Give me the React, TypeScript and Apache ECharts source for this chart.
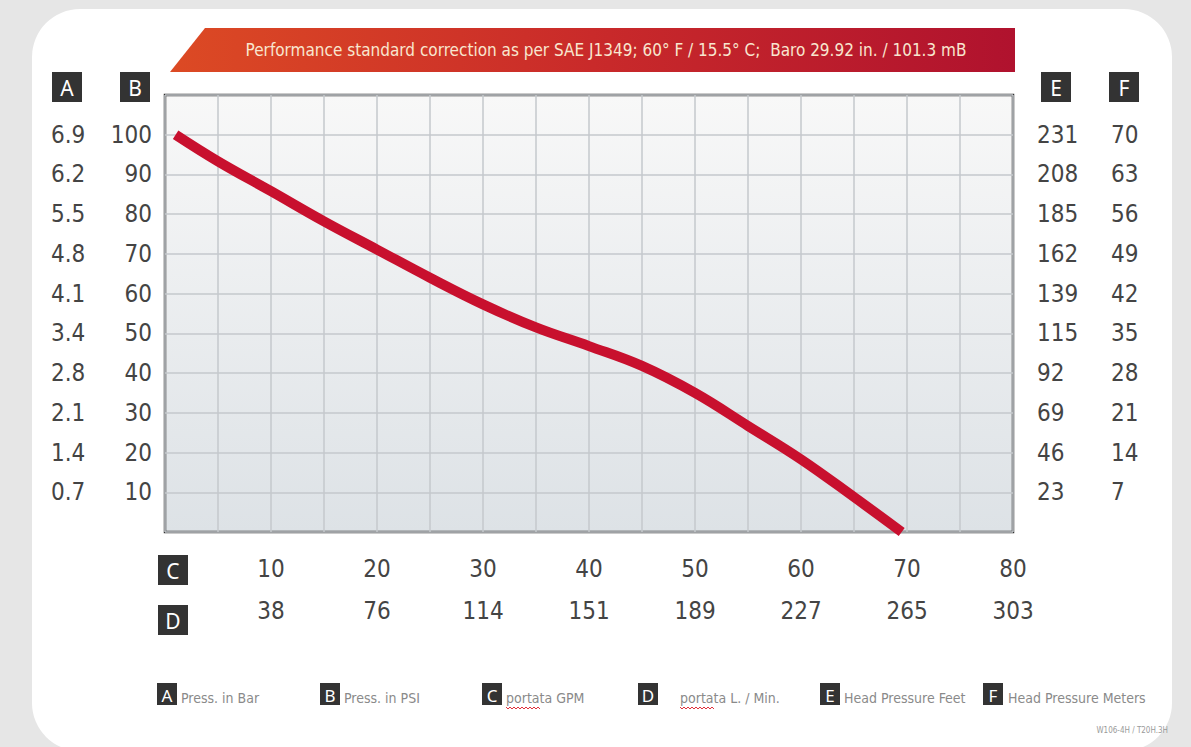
import React, { useEffect, useRef } from "react";
import * as echarts from "echarts";

// ---- data ----
const flowGpm = [1, 5, 10, 15, 20, 25, 30, 35, 40, 45, 50, 55, 60, 65, 69.5];
const pressurePsi = [100, 93.3, 85.8, 78.2, 71.1, 64, 57.3, 51.5, 46.8, 41.8, 35, 26.7, 18.3, 8.8, 0];

const gpmTicks = [10, 20, 30, 40, 50, 60, 70, 80];
const gpmLabels = ["10", "20", "30", "40", "50", "60", "70", "80"];
const lpmLabels = ["38", "76", "114", "151", "189", "227", "265", "303"];

const psiTicks = [10, 20, 30, 40, 50, 60, 70, 80, 90, 100];
const psiLabels = ["10", "20", "30", "40", "50", "60", "70", "80", "90", "100"];
const barLabels = ["0.7", "1.4", "2.1", "2.8", "3.4", "4.1", "4.8", "5.5", "6.2", "6.9"];
const feetLabels = ["23", "46", "69", "92", "115", "139", "162", "185", "208", "231"];
const meterLabels = ["7", "14", "21", "28", "35", "42", "49", "56", "63", "70"];

const legendKeys = ["A", "B", "C", "D", "E", "F"];
const legendTexts = [
  "Press. in Bar",
  "Press. in PSI",
  "portata GPM",
  "portata L. / Min.",
  "Head Pressure Feet",
  "Head Pressure Meters",
];

const titleText =
  "Performance standard correction as per SAE J1349; 60° F / 15.5° C;  Baro 29.92 in. / 101.3 mB";
const footnote = "W106-4H / T20H.3H";

const NUM_FONT = '"Liberation Sans Narrow", "DejaVu Sans Condensed", sans-serif';
const BOX_FONT = '"Noto Sans", "DejaVu Sans", sans-serif';

function pick(ticks: number[], labels: string[]) {
  return (v: number) => {
    const i = ticks.indexOf(Math.round(v * 100) / 100);
    return i >= 0 ? labels[i] : "";
  };
}

function box(key: string, x: number, y: number, w: number, h: number, fs: number) {
  return {
    type: "group",
    children: [
      { type: "rect", shape: { x, y, width: w, height: h }, style: { fill: "#333333" } },
      {
        type: "text",
        x: x + w / 2,
        y: y + h / 2 + 1,
        style: {
          text: key,
          fill: "#ffffff",
          fontSize: fs,
          fontFamily: BOX_FONT,
          align: "center",
          verticalAlign: "middle",
        },
      },
    ],
  };
}

function squiggle(x0: number, x1: number, y: number) {
  const pts: number[][] = [];
  let up = true;
  for (let x = x0; x <= x1; x += 2) {
    pts.push([x, up ? y : y + 2]);
    up = !up;
  }
  return { type: "polyline", shape: { points: pts }, style: { stroke: "#e0303a", lineWidth: 1, fill: null } };
}

export default function App() {
  const ref = useRef<HTMLDivElement>(null);

  useEffect(() => {
    if (!ref.current) return;
    const chart = echarts.init(ref.current, undefined, { renderer: "svg" });

    const legendBoxX = [157, 320, 482, 638, 820, 983];
    const legendTextX = [181, 344, 506, 680, 844, 1008];

    const graphics: any[] = [
      {
        type: "rect",
        z: -10,
        shape: { x: 32, y: 9, width: 1140, height: 742, r: 48 },
        style: { fill: "#ffffff" },
      },
      {
        type: "polygon",
        shape: { points: [[170, 72], [205, 28], [1015, 28], [1015, 72]] },
        style: {
          fill: new echarts.graphic.LinearGradient(0, 0, 1, 0, [
            { offset: 0, color: "#dc4a24" },
            { offset: 0.5, color: "#c92a2a" },
            { offset: 1, color: "#b0122e" },
          ]),
        },
      },
      {
        type: "text",
        x: 606,
        y: 50,
        style: {
          text: titleText,
          fill: "#f8e6cf",
          fontSize: 17,
          fontFamily: NUM_FONT,
          align: "center",
          verticalAlign: "middle",
        },
      },
      box("A", 52, 72, 30, 30, 21),
      box("B", 120, 72, 30, 30, 21),
      box("E", 1041, 72, 30, 30, 21),
      box("F", 1109, 72, 30, 30, 21),
      box("C", 158, 555, 30, 30, 21),
      box("D", 158, 605, 30, 30, 21),
      {
        type: "text",
        x: 1168,
        y: 730,
        style: {
          text: footnote,
          fill: "#9a9a9a",
          fontSize: 8,
          fontFamily: NUM_FONT,
          align: "right",
          verticalAlign: "middle",
        },
      },
    ];
    legendKeys.forEach((k, i) => {
      graphics.push(box(k, legendBoxX[i], 683, 20, 22, 17));
      graphics.push({
        type: "text",
        x: legendTextX[i],
        y: 705,
        style: {
          text: legendTexts[i],
          fill: "#8a8a8a",
          fontSize: 14,
          fontFamily: NUM_FONT,
          align: "left",
          verticalAlign: "bottom",
        },
      });
    });
    graphics.push(squiggle(506, 540, 707));
    graphics.push(squiggle(680, 714, 707));

    const tickLabel = { color: "#444444", fontSize: 24, fontFamily: NUM_FONT };
    const hidden = { show: false };

    chart.setOption({
      animation: false,
      backgroundColor: "#e6e6e6",
      graphic: graphics,
      grid: {
        left: 165,
        right: 178,
        top: 95,
        bottom: 215,
        show: true,
        borderColor: "#333333",
        borderWidth: 2.5,
        backgroundColor: new echarts.graphic.LinearGradient(0, 0, 0, 1, [
          { offset: 0, color: "#f8f8f8" },
          { offset: 1, color: "#dde2e6" },
        ]),
      },
      xAxis: [
        {
          type: "value",
          min: 0,
          max: 80,
          interval: 5,
          position: "bottom",
          axisLine: hidden,
          axisTick: hidden,
          splitLine: { show: true, lineStyle: { color: "#c4c9cd", width: 1.5 } },
          axisLabel: { ...tickLabel, margin: 25, formatter: pick(gpmTicks, gpmLabels) },
        },
        {
          type: "value",
          min: 0,
          max: 80,
          interval: 5,
          position: "bottom",
          offset: 42,
          axisLine: hidden,
          axisTick: hidden,
          splitLine: hidden,
          axisLabel: { ...tickLabel, margin: 25, formatter: pick(gpmTicks, lpmLabels) },
        },
      ],
      yAxis: [
        {
          type: "value",
          min: 0,
          max: 110,
          interval: 10,
          position: "left",
          axisLine: hidden,
          axisTick: hidden,
          splitLine: { show: true, lineStyle: { color: "#c4c9cd", width: 1.5 } },
          axisLabel: { ...tickLabel, margin: 13, formatter: pick(psiTicks, psiLabels) },
        },
        {
          type: "value",
          min: 0,
          max: 110,
          interval: 10,
          position: "left",
          axisLine: hidden,
          axisTick: hidden,
          splitLine: hidden,
          axisLabel: { ...tickLabel, margin: 114, align: "left", formatter: pick(psiTicks, barLabels) },
        },
        {
          type: "value",
          min: 0,
          max: 110,
          interval: 10,
          position: "right",
          axisLine: hidden,
          axisTick: hidden,
          splitLine: hidden,
          axisLabel: { ...tickLabel, margin: 24, align: "left", formatter: pick(psiTicks, feetLabels) },
        },
        {
          type: "value",
          min: 0,
          max: 110,
          interval: 10,
          position: "right",
          axisLine: hidden,
          axisTick: hidden,
          splitLine: hidden,
          axisLabel: { ...tickLabel, margin: 98, align: "left", formatter: pick(psiTicks, meterLabels) },
        },
      ],
      series: [
        {
          type: "line",
          xAxisIndex: 0,
          yAxisIndex: 0,
          data: flowGpm.map((f, i) => [f, pressurePsi[i]]),
          smooth: 0.4,
          symbol: "none",
          lineStyle: { color: "#c8102e", width: 10 },
          z: 5,
        },
      ],
    });

    return () => chart.dispose();
  }, []);

  return (
    <div
      ref={ref}
      style={{ position: "fixed", left: 0, top: 0, width: 1191, height: 747 }}
    />
  );
}
